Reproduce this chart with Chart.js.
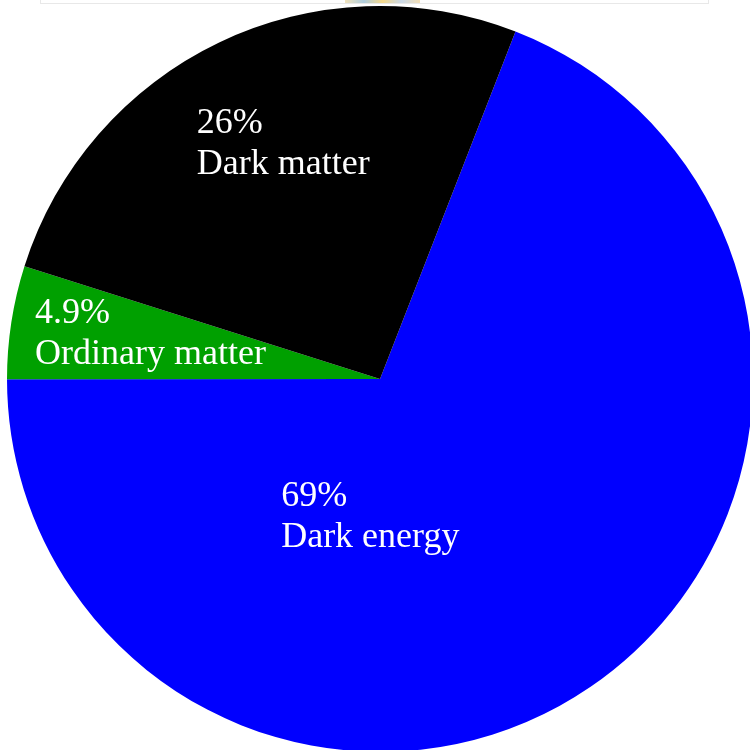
<!DOCTYPE html>
<html>
<head>
<meta charset="utf-8">
<script src="https://cdn.jsdelivr.net/npm/chart.js@4/dist/chart.umd.min.js"></script>
<style>
  html, body { margin: 0; padding: 0; background: #ffffff; overflow: hidden; width: 750px; height: 750px; }
  #wrap { position: absolute; left: 0; top: 0; width: 760px; height: 760px; }
  #topbox { position: absolute; left: 40px; top: -2px; width: 667px; height: 5px; border: 1px solid #e8e8e8; border-top: none; background: #fff; z-index: 2; }
  #topdeco { position: absolute; left: 345px; top: 0px; width: 75px; height: 3px; z-index: 3;
    background: linear-gradient(90deg, rgba(230,200,120,0.5), rgba(120,170,200,0.6), rgba(240,200,90,0.7), rgba(150,180,210,0.5), rgba(230,190,110,0.5)); }
</style>
</head>
<body>
<div id="topbox"></div>
<div id="topdeco"></div>
<div id="wrap"><canvas id="c" width="760" height="760"></canvas></div>
<script>
// Data
const categories = ["Dark energy", "Ordinary matter", "Dark matter"];
const percentLabels = ["69%", "4.9%", "26%"];
const shares = [69, 4.9, 26];
const colors = ["#0000ff", "#00a000", "#000000"];

// Label offsets as fractions of the pie radius (from pie centre): left edge, first baseline
const labelOffsets = [[-0.265, 0.341], [-0.925, -0.150], [-0.491, -0.660]];

const labelPlugin = {
  id: 'sliceLabels',
  afterDatasetsDraw(chart) {
    const ctx = chart.ctx;
    const meta = chart.getDatasetMeta(0);
    ctx.save();
    ctx.fillStyle = '#ffffff';
    ctx.font = '36px "Liberation Serif", "Times New Roman", serif';
    ctx.textAlign = 'left';
    ctx.textBaseline = 'alphabetic';
    meta.data.forEach((arc, i) => {
      const r = arc.outerRadius;
      const x = arc.x + labelOffsets[i][0] * r;
      const y = arc.y + labelOffsets[i][1] * r;
      ctx.fillText(percentLabels[i], x, y);
      ctx.fillText(categories[i], x, y + 41);
    });
    ctx.restore();
  }
};

new Chart(document.getElementById('c'), {
  type: 'pie',
  data: {
    labels: categories,
    datasets: [{
      data: shares,
      backgroundColor: colors,
      borderWidth: 0,
      hoverOffset: 0
    }]
  },
  options: {
    responsive: false,
    devicePixelRatio: 1,
    animation: false,
    rotation: 21.3,
    layout: { padding: { left: 7, right: 7, top: 6, bottom: 8 } },
    plugins: {
      legend: { display: false },
      tooltip: { enabled: false }
    },
    events: []
  },
  plugins: [labelPlugin]
});
</script>
</body>
</html>
